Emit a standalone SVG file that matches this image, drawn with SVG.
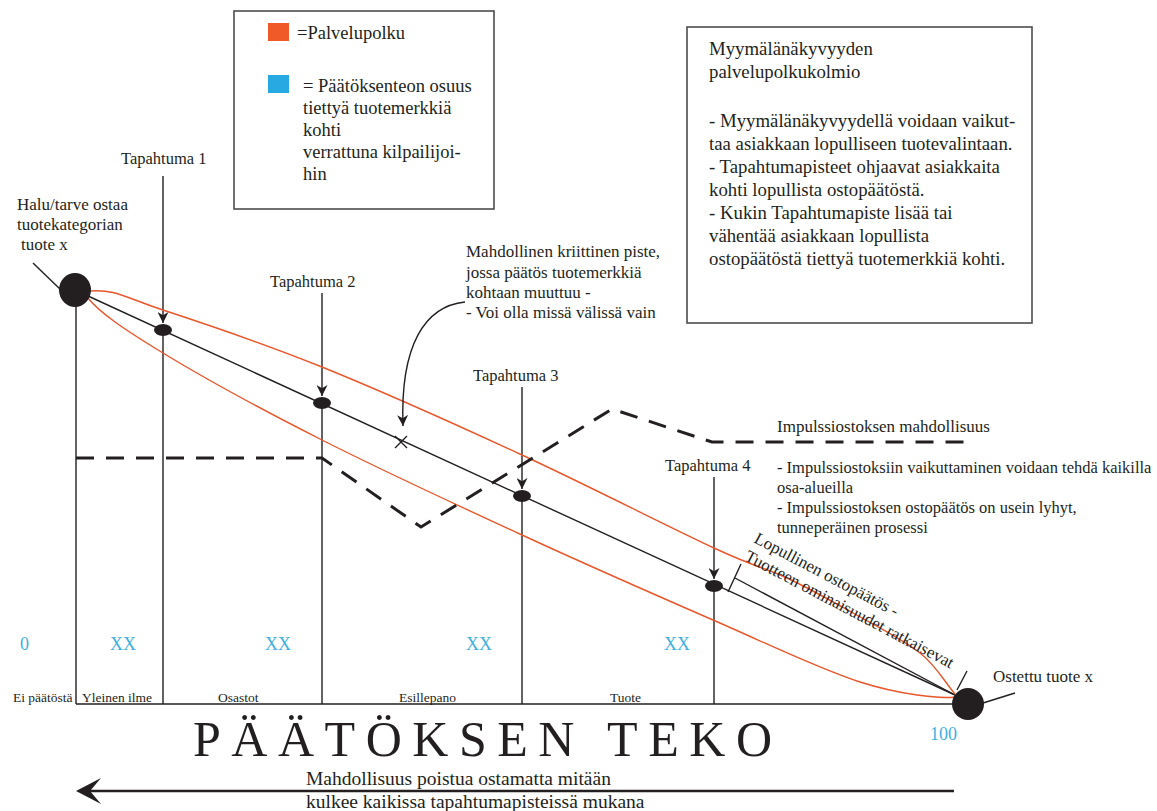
<svg xmlns="http://www.w3.org/2000/svg" width="1157" height="811" viewBox="0 0 1157 811">
<style>
  text { font-family: "Liberation Serif", "Times New Roman", serif; fill: #231f20; }
  .lbl { font-size: 17px; }
  .ev { font-size: 16.5px; }
  .big { font-size: 18.5px; }
  .info { font-size: 18.8px; }
  .sec { font-size: 13.5px; }
  .num { font-size: 18px; fill: #3fb0e0; }
  .ln { stroke: #231f20; stroke-width: 1.4; fill: none; }
  .path-or { stroke: #e8562a; stroke-width: 1.4; fill: none; }
  .dash { stroke: #231f20; stroke-width: 3; fill: none; stroke-dasharray: 18 12; }
  .box { fill: #ffffff; stroke: #4d4d4d; stroke-width: 1.6; }
  .dot { fill: #231f20; }
</style>
<defs>
  <marker id="arrow" markerUnits="userSpaceOnUse" markerWidth="11" markerHeight="11" refX="10" refY="5" orient="auto" viewBox="0 0 10 10">
    <path d="M0,0 L10,5 L0,10 L3,5 Z" fill="#231f20"/>
  </marker>
</defs>
<rect width="1157" height="811" fill="#ffffff"/>

<!-- legend -->
<g id="legend">
  <rect class="box" x="234" y="11" width="260" height="198"/>
  <rect x="268" y="23" width="21" height="18" fill="#f05a28"/>
  <text class="big" x="297" y="39">=Palvelupolku</text>
  <rect x="268" y="75" width="21" height="18" fill="#29a9e1"/>
  <text class="big" x="303" y="92">= Päätöksenteon osuus</text>
  <text class="big" x="303" y="114">tiettyä tuotemerkkiä</text>
  <text class="big" x="303" y="136">kohti</text>
  <text class="big" x="303" y="158">verrattuna kilpailijoi-</text>
  <text class="big" x="303" y="180">hin</text>
</g>

<!-- info box -->
<g id="info-box">
  <rect class="box" x="687" y="27" width="345" height="296"/>
  <text class="info" x="709" y="55">Myymälänäkyvyyden</text>
  <text class="info" x="709" y="78">palvelupolkukolmio</text>
  <text class="info" x="709" y="127">- Myymälänäkyvyydellä voidaan vaikut-</text>
  <text class="info" x="709" y="150">taa asiakkaan lopulliseen tuotevalintaan.</text>
  <text class="info" x="709" y="173">- Tapahtumapisteet ohjaavat asiakkaita</text>
  <text class="info" x="709" y="196">kohti lopullista ostopäätöstä.</text>
  <text class="info" x="709" y="219">- Kukin Tapahtumapiste lisää tai</text>
  <text class="info" x="709" y="242">vähentää asiakkaan lopullista</text>
  <text class="info" x="709" y="265">ostopäätöstä tiettyä tuotemerkkiä kohti.</text>
</g>

<!-- connectors -->
<g id="connectors">
  <!-- section dividers and baseline -->
  <line class="ln" x1="76" y1="300" x2="76" y2="704"/>
  <line class="ln" x1="163" y1="330" x2="163" y2="704"/>
  <line class="ln" x1="322" y1="403" x2="322" y2="704"/>
  <line class="ln" x1="522" y1="496" x2="522" y2="704"/>
  <line class="ln" x1="714" y1="586" x2="714" y2="704"/>
  <line class="ln" x1="76" y1="704" x2="956" y2="704"/>

  <!-- event arrows -->
  <line class="ln" x1="163" y1="176" x2="163" y2="323" marker-end="url(#arrow)"/>
  <line class="ln" x1="322" y1="293" x2="322" y2="396" marker-end="url(#arrow)"/>
  <line class="ln" x1="522" y1="387" x2="522" y2="489" marker-end="url(#arrow)"/>
  <line class="ln" x1="714" y1="477" x2="714" y2="579" marker-end="url(#arrow)"/>

  <!-- decision path -->
  <line class="ln" x1="75" y1="290" x2="955" y2="695"/>
  <line class="ln" x1="735" y1="578" x2="955" y2="695"/>
  <line class="ln" x1="728" y1="592" x2="741" y2="564"/>

  <!-- service path -->
  <path class="path-or" d="M 90 291 C 115 289, 124 297, 163 310 C 201.7 322.7, 262.2 342.8, 322 367 C 381.8 391.2, 456.7 424.8, 522 455 C 587.3 485.2, 669.8 527.5, 714 548 C 758.2 568.5, 763.8 567.2, 787 578 C 810.2 588.8, 830.8 600.5, 853 613 C 875.2 625.5, 903 639.5, 920 653 C 937 666.5, 943.3 680.3, 955 694"/>
  <path class="path-or" d="M 88 298 C 100 313, 124 329.2, 163 353 C 202 376.8, 262.2 409.7, 322 440 C 381.8 470.3, 456.8 505, 522 535 C 587.2 565, 656.7 595.5, 713 620 C 769.3 644.5, 819.7 669.2, 860 682 C 900.3 694.8, 940 699, 955 697"/>

  <!-- impulse purchase possibility -->
  <path class="dash" d="M 76 458 L 322 458 L 421 527 L 612 409 L 712 442 L 968 442"/>

  <!-- critical point pointer -->
  <path class="ln" d="M 465 302 C 425 306, 400 345, 403 426" marker-end="url(#arrow)"/>

  <!-- exit possibility -->
  <line x1="88" y1="791" x2="954" y2="791" stroke="#231f20" stroke-width="2.6"/>
  <path d="M 76 791 L 101 778 L 90 791 L 101 804 Z" fill="#231f20"/>
</g>

<!-- start node -->
<g id="start-node">
  <line class="ln" x1="33" y1="263" x2="62" y2="291"/>
  <ellipse class="dot" cx="75" cy="290" rx="16" ry="17"/>
  <text class="lbl" x="17" y="210">Halu/tarve ostaa</text>
  <text class="lbl" x="17" y="230">tuotekategorian</text>
  <text class="lbl" x="21" y="250">tuote x</text>
</g>

<!-- end node -->
<g id="end-node">
  <line class="ln" x1="957" y1="690" x2="967" y2="671"/>
  <line class="ln" x1="983" y1="703" x2="1015" y2="693"/>
  <circle class="dot" cx="968" cy="704" r="16"/>
  <text class="lbl" x="993" y="682">Ostettu tuote x</text>
</g>

<!-- events -->
<g id="event-1">
  <ellipse class="dot" cx="163" cy="330" rx="9" ry="6"/>
  <text class="ev" x="121" y="164">Tapahtuma 1</text>
</g>
<g id="event-2">
  <ellipse class="dot" cx="322" cy="403" rx="9" ry="6"/>
  <text class="ev" x="270" y="287">Tapahtuma 2</text>
</g>
<g id="event-3">
  <ellipse class="dot" cx="522" cy="496" rx="9" ry="6"/>
  <text class="ev" x="473" y="381">Tapahtuma 3</text>
</g>
<g id="event-4">
  <ellipse class="dot" cx="714" cy="586" rx="9" ry="6"/>
  <text class="ev" x="665" y="471">Tapahtuma 4</text>
</g>

<!-- critical point -->
<g id="critical-point">
  <path class="ln" d="M 395 436 L 407 448 M 407 436 L 395 448"/>
  <text class="lbl" x="466" y="257">Mahdollinen kriittinen piste,</text>
  <text class="lbl" x="466" y="278">jossa päätös tuotemerkkiä</text>
  <text class="lbl" x="466" y="298">kohtaan muuttuu -</text>
  <text class="lbl" x="466" y="318">- Voi olla missä välissä vain</text>
</g>

<!-- impulse notes -->
<g id="impulse">
  <text class="lbl" x="777" y="432">Impulssiostoksen mahdollisuus</text>
  <text class="ev" x="777" y="473">- Impulssiostoksiin vaikuttaminen voidaan tehdä kaikilla</text>
  <text class="ev" x="777" y="493">osa-alueilla</text>
  <text class="ev" x="777" y="513">- Impulssiostoksen ostopäätös on usein lyhyt,</text>
  <text class="ev" x="777" y="533">tunneperäinen prosessi</text>
</g>

<!-- final decision -->
<g id="final-decision" transform="translate(753,542) rotate(27.8)">
  <text class="lbl" x="0" y="0">Lopullinen ostopäätös -</text>
  <text class="lbl" x="0" y="20">Tuotteen ominaisuudet ratkaisevat</text>
</g>

<!-- scale and sections -->
<g id="scale">
  <text class="num" x="20" y="650">0</text>
  <text class="num" x="110" y="650">XX</text>
  <text class="num" x="265" y="650">XX</text>
  <text class="num" x="466" y="650">XX</text>
  <text class="num" x="664" y="650">XX</text>
  <text class="num" x="930" y="740">100</text>
  <text class="sec" x="13" y="702">Ei päätöstä</text>
  <text class="sec" x="82" y="702">Yleinen ilme</text>
  <text class="sec" x="218" y="702">Osastot</text>
  <text class="sec" x="399" y="702">Esillepano</text>
  <text class="sec" x="610" y="702">Tuote</text>
</g>

<!-- title and exit note -->
<g id="title">
  <text x="193" y="756" font-size="50" textLength="579" lengthAdjust="spacing">PÄÄTÖKSEN TEKO</text>
  <text x="306" y="785" font-size="19.5">Mahdollisuus poistua ostamatta mitään</text>
  <text x="306" y="808" font-size="19.5">kulkee kaikissa tapahtumapisteissä mukana</text>
</g>
</svg>
